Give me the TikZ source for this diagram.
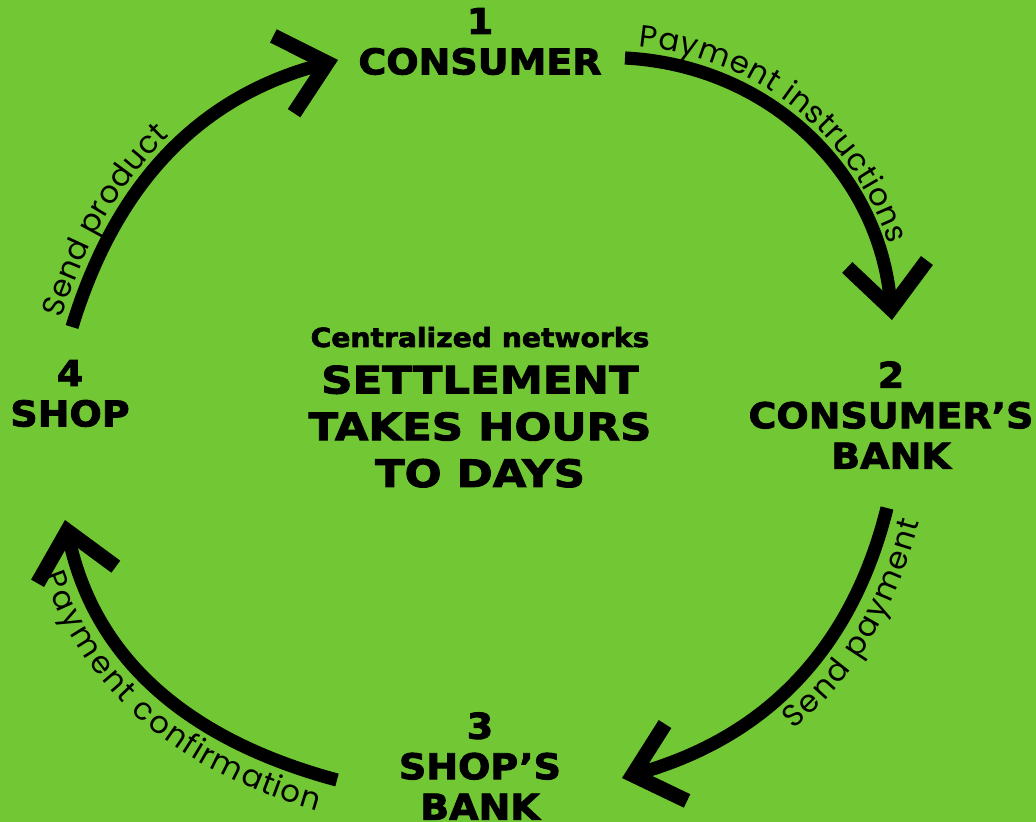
\documentclass[tikz,border=0pt]{standalone}
\usepackage{fontspec}
\usetikzlibrary{arrows.meta,decorations.text}

\newfontfamily\headfont{DejaVu Sans}[FakeStretch=1.07, BoldFeatures={FakeBold=2.5}]
\newfontfamily\bigfont{DejaVu Sans}[FakeStretch=1.15, BoldFeatures={FakeBold=2.5}]
\newfontfamily\stepfont{Poppins}
\newcommand\steptext{\stepfont\fontsize{17.5}{21}\selectfont}

\definecolor{leaf}{HTML}{72C834}

\tikzset{
  party/.style={align=center, inner sep=0pt, font=\headfont\bfseries\fontsize{20.2}{23}\selectfont},
  flow/.style={line width=7.5pt, -{Straight Barb[length=0.9cm, width=1.6cm, line width=8.5pt, sharp]}},
}

\begin{document}
\begin{tikzpicture}[x=0.02cm, y=0.02cm]
    % background
    \fill[leaf] (0,0) rectangle (1036,822);
    \useasboundingbox (0,0) rectangle (1036,822);

    % the four parties
    \node[party] (consumer) at (480,780.5) {1\\CONSUMER};
    \node[party] (cbank) at (891,407) {2\\CONSUMER’S\\BANK};
    \node[party] (sbank) at (480,56) {3\\SHOP’S\\BANK};
    \node[party] (shop) at (70,428.5) {4\\SHOP};

    % middle text
    \node[inner sep=0pt, anchor=base, font=\headfont\bfseries\fontsize{15}{18}\selectfont] (network) at (480,475) {Centralized networks};
    \node[align=center, inner sep=0pt, font=\bigfont\bfseries\fontsize{21.5}{26.6}\selectfont] (settle) at (480,395.5) {SETTLEMENT\\TAKES HOURS\\TO DAYS};

    % arc ends
    \coordinate (instr-a) at (625,764);
    \coordinate (instr-b) at (892,502);
    \coordinate (pay-a) at (887,314);
    \coordinate (pay-b) at (622,44);
    \coordinate (conf-a) at (337,42);
    \coordinate (conf-b) at (65,302);
    \coordinate (prod-a) at (72,495);
    \coordinate (prod-b) at (338,762);

    % the cycle
    \draw[flow, postaction=decorate, decoration={text along path, raise=7pt,
        text align={left, left indent=0.25cm}, text={|\steptext|Payment instructions}}]
        (instr-a) to[out=-3, in=95] (instr-b);
    \draw[flow, postaction=decorate, decoration={text along path, reverse path, raise=-20pt,
        text align={right, right indent=0.1cm}, text={|\steptext|Send payment}}]
        (pay-a) to[out=-104, in=16] (pay-b);
    \draw[flow, postaction=decorate, decoration={text along path, reverse path, raise=-20pt,
        text align={left, left indent=0.9cm}, text={|\steptext|Payment confirmation}}]
        (conf-a) to[out=165, in=-78] (conf-b);
    \draw[flow, postaction=decorate, decoration={text along path, raise=7pt,
        text align={left, left indent=0.1cm}, text={|\steptext|Send product}}]
        (prod-a) to[out=73, in=195] (prod-b);
\end{tikzpicture}
\end{document}
